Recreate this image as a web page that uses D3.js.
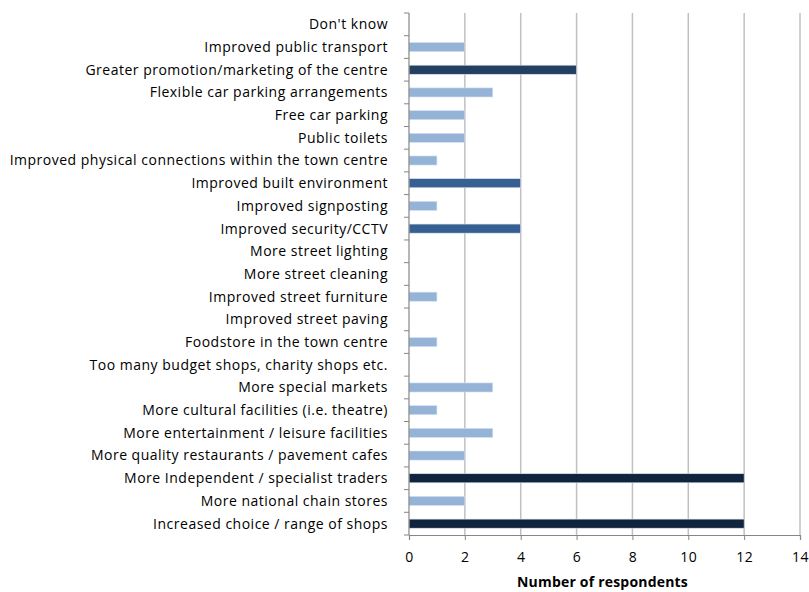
<!DOCTYPE html>
<html>
<head>
<meta charset="utf-8">
<script src="https://cdn.jsdelivr.net/npm/d3@7"></script>
<style>
  html, body { margin: 0; padding: 0; background: #fff; }
  text { font-family: "Open Sans", Lato, sans-serif; fill: #000; }
</style>
</head>
<body>
<svg id="chart" width="809" height="592"></svg>
<script>
// Survey responses: suggested improvements for the town centre
const categories = [
  "Don't know",
  "Improved public transport",
  "Greater promotion/marketing of the centre",
  "Flexible car parking arrangements",
  "Free car parking",
  "Public toilets",
  "Improved physical connections within the town centre",
  "Improved built environment",
  "Improved signposting",
  "Improved security/CCTV",
  "More street lighting",
  "More street cleaning",
  "Improved street furniture",
  "Improved street paving",
  "Foodstore in the town centre",
  "Too many budget shops, charity shops etc.",
  "More special markets",
  "More cultural facilities (i.e. theatre)",
  "More entertainment / leisure facilities",
  "More quality restaurants / pavement cafes",
  "More Independent / specialist traders",
  "More national chain stores",
  "Increased choice / range of shops"
];
const respondents = [0, 2, 6, 3, 2, 2, 1, 4, 1, 4, 0, 0, 1, 0, 1, 0, 3, 1, 3, 2, 12, 2, 12];
const xTicks = [0, 2, 4, 6, 8, 10, 12, 14];
const xTitle = "Number of respondents";

(function draw() {
  const svg = d3.select("#chart");
  const plotLeft = 409, plotRight = 800, plotTop = 13, plotBottom = 535;

  const x = d3.scaleLinear().domain([0, 14]).range([plotLeft, plotRight]);
  const y = d3.scaleBand().domain(categories).range([plotTop, plotBottom]).paddingInner(0.6).paddingOuter(0.3);

  // bar shade darkens with the count
  const shade = d3.scaleThreshold()
    .domain([4, 6, 12])
    .range(["#95b3d7", "#366092", "#243f60", "#10243e"]);

  // vertical gridlines
  svg.append("g")
    .selectAll("line")
    .data(xTicks.filter(d => d > 0))
    .join("line")
    .attr("x1", d => x(d)).attr("x2", d => x(d))
    .attr("y1", plotTop).attr("y2", plotBottom)
    .attr("stroke", "#c0c0c0")
    .attr("stroke-width", 1.5);

  // bars
  svg.append("g")
    .selectAll("rect")
    .data(categories.map((c, i) => ({ c, v: respondents[i] })).filter(d => d.v > 0))
    .join("rect")
    .attr("x", x(0))
    .attr("y", d => y(d.c))
    .attr("width", d => x(d.v) - x(0))
    .attr("height", y.bandwidth())
    .attr("fill", d => shade(d.v))
    .attr("stroke", "#d6e2f0")
    .attr("stroke-width", 0.6);

  // x axis
  const xAxis = svg.append("g")
    .attr("transform", `translate(0,${plotBottom})`)
    .call(d3.axisBottom(x).tickValues(xTicks).tickSize(5).tickPadding(12));
  xAxis.select(".domain").attr("stroke", "#868686").attr("stroke-width", 1.2);
  xAxis.selectAll(".tick line").attr("stroke", "#868686");
  xAxis.selectAll("text")
    .style("font-size", "14px")
    .style("font-family", "'Open Sans', sans-serif")
    .style("letter-spacing", "0.5px")
    .attr("fill", "#000");

  // y axis: ticks at category boundaries
  const step = (plotBottom - plotTop) / categories.length;
  const yAxisG = svg.append("g");
  yAxisG.append("line")
    .attr("x1", plotLeft).attr("x2", plotLeft).attr("y1", plotTop).attr("y2", plotBottom)
    .attr("stroke", "#868686").attr("stroke-width", 1.2);
  yAxisG.selectAll("line.tk")
    .data(d3.range(categories.length + 1))
    .join("line")
    .attr("class", "tk")
    .attr("x1", plotLeft - 5).attr("x2", plotLeft)
    .attr("y1", i => plotTop + i * step).attr("y2", i => plotTop + i * step)
    .attr("stroke", "#868686");

  yAxisG.selectAll("text")
    .data(categories)
    .join("text")
    .attr("x", 388)
    .attr("y", d => y(d) + y.bandwidth() / 2)
    .attr("dy", "0.35em")
    .attr("text-anchor", "end")
    .style("font-size", "14px")
    .style("letter-spacing", "0.5px")
    .text(d => d);

  // axis title
  svg.append("text")
    .attr("x", (plotLeft + plotRight) / 2 - 2)
    .attr("y", 587)
    .attr("text-anchor", "middle")
    .style("font-size", "14px")
    .style("font-weight", "bold")
    .style("letter-spacing", "0.2px")
    .text(xTitle);
})();
</script>
</body>
</html>
